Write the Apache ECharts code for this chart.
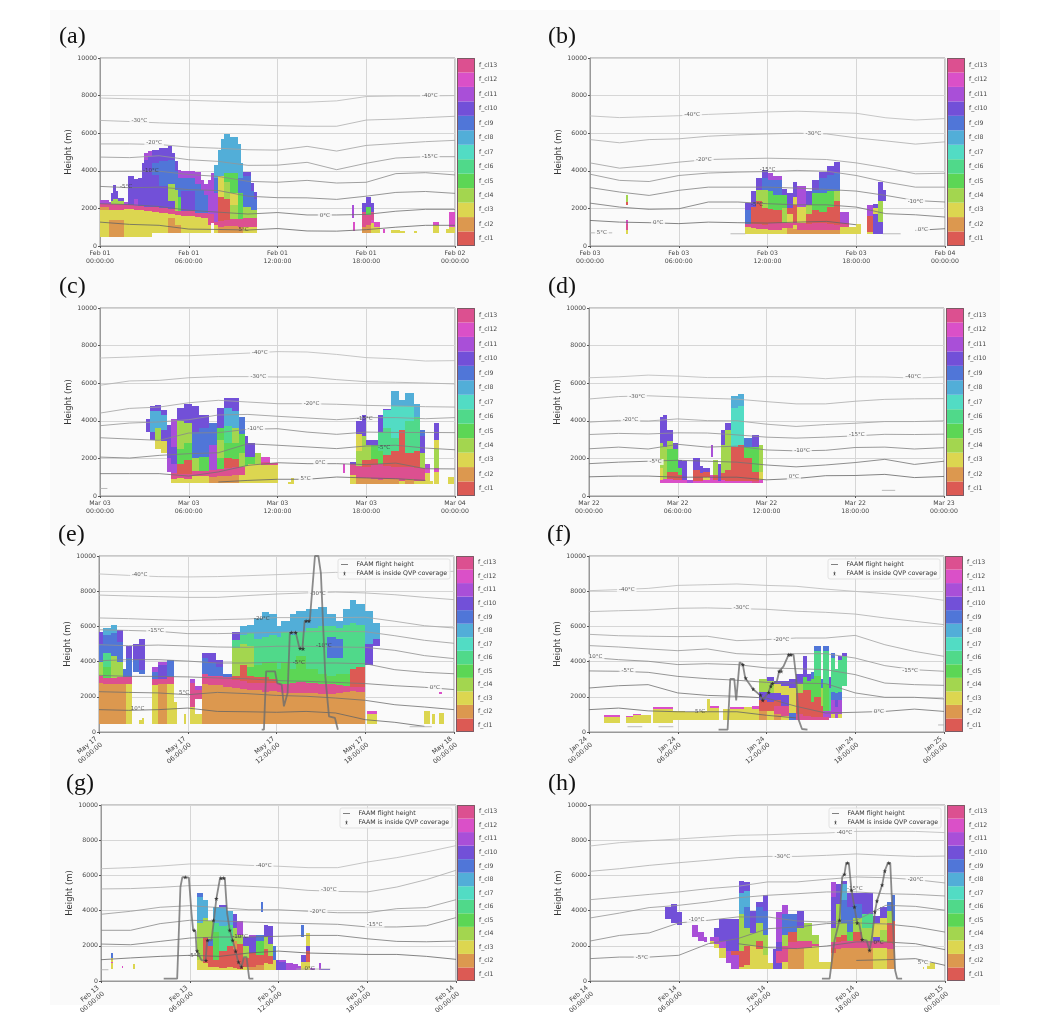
<!DOCTYPE html>
<html><head><meta charset="utf-8">
<style>html,body{margin:0;padding:0;background:#fff}#c{width:1043px;height:1034px;filter:blur(0.35px)}</style>
<script src="https://cdn.jsdelivr.net/npm/echarts@6/dist/echarts.min.js"></script>
</head><body><div id="c"></div>
<script>
const CLASS_NAMES=['f_cl1','f_cl2','f_cl3','f_cl4','f_cl5','f_cl6','f_cl7','f_cl8','f_cl9','f_cl10','f_cl11','f_cl12','f_cl13'];
const CLASS_COLORS=['#dc5a54','#dc984f','#dcd650','#a3d64f','#5cd655','#50d98a','#52dcc4','#52aed8','#5076d8','#7250d8','#a94fd8','#da50c8','#dc5090'];
const HEIGHT_TICKS=[0,2000,4000,6000,8000,10000];
const TICKS_A=['Feb 01\n00:00:00','Feb 01\n06:00:00','Feb 01\n12:00:00','Feb 01\n18:00:00','Feb 02\n00:00:00'];
const TICKS_B=['Feb 03\n00:00:00','Feb 03\n06:00:00','Feb 03\n12:00:00','Feb 03\n18:00:00','Feb 04\n00:00:00'];
const TICKS_C=['Mar 03\n00:00:00','Mar 03\n06:00:00','Mar 03\n12:00:00','Mar 03\n18:00:00','Mar 04\n00:00:00'];
const TICKS_D=['Mar 22\n00:00:00','Mar 22\n06:00:00','Mar 22\n12:00:00','Mar 22\n18:00:00','Mar 23\n00:00:00'];
const TICKS_E=['May 17\n00:00:00','May 17\n06:00:00','May 17\n12:00:00','May 17\n18:00:00','May 18\n00:00:00'];
const TICKS_F=['Jan 24\n00:00:00','Jan 24\n06:00:00','Jan 24\n12:00:00','Jan 24\n18:00:00','Jan 25\n00:00:00'];
const TICKS_G=['Feb 13\n00:00:00','Feb 13\n06:00:00','Feb 13\n12:00:00','Feb 13\n18:00:00','Feb 14\n00:00:00'];
const TICKS_H=['Feb 14\n00:00:00','Feb 14\n06:00:00','Feb 14\n12:00:00','Feb 14\n18:00:00','Feb 15\n00:00:00'];

// isotherm heights (m) sampled every 2 h, coldest line first
const ISO_A=[[7870,7830,7800,7750,7700,7650,7650,7650,7720,7950,7980,7980,8000],
[6680,6620,6550,6500,6470,6450,6400,6370,6370,6700,6750,6830,6900],
[5430,5430,5400,5260,5200,5120,5100,5300,5050,5350,5450,5550,5620],
[4730,4700,4800,4590,4500,4290,4300,4450,4060,4400,4680,4750,4750],
[3970,3980,3980,3800,3700,3440,3390,3490,3350,3390,3850,3900,3780],
[3170,3100,3130,3000,2950,2650,2570,2560,2480,2650,2850,2900,2800],
[2250,2200,2100,1900,1800,1700,1780,1650,1650,1680,1850,1950,1950],
[1270,1150,1100,900,880,850,930,800,790,870,1000,1100,1100]];
const ISO_B=[[6920,6830,6880,6930,7000,7060,7130,7170,7120,7060,6820,6700,6780],
[5660,5490,5660,5700,5840,5910,5960,6000,5960,5750,5590,5420,5540],
[4420,4140,4280,4460,4600,4640,4670,4640,4600,4420,4160,3840,3870],
[3820,3490,3430,3750,3880,3930,3960,4020,3980,3750,3400,3130,3130],
[3110,2870,2690,2960,3130,3130,3130,3080,3010,2920,2690,2420,2340],
[2280,2070,1950,1980,2340,2340,2250,2190,2190,2070,1720,1660,1540],
[1360,1270,1240,1190,1270,1240,1220,1270,1310,1130,null,830,920]];
const ISO_C=[[7340,7390,7460,7460,7530,7600,7680,7660,7530,7360,7300,7180,7200],
[5890,6120,6150,6290,6350,6350,6330,6330,6190,6080,6050,6010,5960],
[4410,4660,4730,4960,5090,5000,4910,4910,4880,4820,4790,4750,4730],
[3740,3880,3940,4060,4310,4340,4240,4150,4060,4170,4170,4110,4170],
[3100,3030,2960,3350,3370,3550,3580,3400,3280,3400,3380,3380,3370],
[2070,2020,2160,2250,2300,2780,2700,2610,2520,2660,2700,2550,2460],
[1190,1190,1190,1060,1280,1630,1770,1720,1720,1670,1750,1450,1440],
[null,null,null,null,745,830,890,890,1010,960,920,830,null]];
const ISO_D=[[6290,6340,6430,6380,6300,6300,6350,6340,6240,6340,6330,6270,6330],
[5160,5290,5330,5270,5200,5150,5020,4900,4900,5040,5140,5170,5180],
[3930,4020,3990,4100,4010,4000,3820,3700,3800,3870,3960,3960,4000],
[3270,3330,3300,3360,3350,3250,3130,3080,3130,3200,3280,3270,3290],
[2510,2600,2500,2750,2600,2650,2450,2400,2430,2580,2600,2500,2570],
[1720,1800,1850,1900,1850,1800,1650,1550,1650,1780,1950,1680,1850],
[1020,1060,1060,1000,1000,1000,860,930,1080,1090,1150,980,1040]];
const ISO_E=[[8980,8900,8830,8810,8830,8880,8940,9000,9070,9030,9030,9070,9130],
[7780,7730,7690,7650,7650,7750,7840,7900,7950,7900,7800,7650,7520],
[6480,6440,6380,6330,6380,6420,6500,6500,6500,6520,6290,6040,5910],
[5810,5770,5720,5590,5590,5620,5660,5700,5720,5700,5470,5210,5040],
[4960,4900,4940,4890,4830,4810,4870,4870,4830,4810,4640,4340,4170],
[4050,4110,4110,4030,3920,3920,3960,3920,3920,3880,3540,3390,3310],
[3220,3160,3160,3130,3070,3030,2920,2880,2820,2750,2630,2540,2410],
[2290,2250,2220,2120,2250,2180,2080,2030,1930,1800,1550,1420,1270],
[1270,1230,1270,1360,1170,1150,1120,1170,1080,700,550,320,null]];
const ISO_F=[[8030,8090,8160,8330,8370,8410,8330,8280,8120,7990,7860,7710,7480],
[6840,6890,6930,7030,7050,7010,6970,6860,6800,6700,6480,6290,6100],
[5550,5470,5440,5420,5440,5190,5250,5340,5340,5490,4960,4580,4300],
[4910,4830,4720,4620,4720,4450,4390,4450,4450,4200,3770,3540,3450],
[4240,4110,4020,3830,3880,3830,3640,3600,3540,3260,2780,2690,2650],
[3470,3450,3390,3160,3030,2940,2820,2780,2750,2220,1970,1970,1880],
[2500,2630,2690,2220,2080,2030,1930,1460,1080,1120,1170,1300,1170],
[1270,1360,1200,1150,1150,1150,950,800,null,null,null,null,null]];
const ISO_G=[[6380,6440,6530,6650,6650,6570,6520,6440,6440,6760,7010,7330,7690],
[5230,5250,5320,5420,5440,5380,5300,5150,5090,5060,5340,5760,6290],
[3790,3960,4190,4280,4170,4050,4050,3960,3880,3880,4110,4170,4620],
[2880,2880,3260,3450,3410,3350,3300,3260,3220,3070,3070,3140,3600],
[2100,2060,2250,2440,2500,2500,2540,2590,2590,2400,2250,2230,2270],
[1210,1310,1400,1460,1400,1590,1700,1590,1550,1510,1510,1400,1230]];
const ISO_H=[[7670,7860,7970,8070,8180,8280,8310,8370,8410,8500,8520,8500,8430],
[6230,6380,6570,6720,6860,7010,7080,7080,7140,7220,7140,7080,7100],
[4620,4770,4920,5060,5250,5380,5630,5630,5780,5910,5870,5760,5570],
[3580,3860,4170,4300,4490,4730,4870,4960,5060,5060,4960,4920,4830],
[2270,2590,2730,3300,3450,3640,3640,3410,3350,3450,4300,4240,4020],
[1270,1360,1360,1460,2120,2410,2970,3070,3260,3300,3240,3070,2780],
[null,null,null,null,null,2120,1900,1840,1990,2220,2220,2120,1780],
[null,null,null,null,null,null,null,null,null,1170,1210,1270,890]];

// short isotherm pieces: [start hour, end hour, height]
const FRAG_A=[],FRAG_C=[[0,0.5,400]],FRAG_D=[[19.8,20.7,300]],FRAG_E=[[21,22.5,300]],
FRAG_B=[[0,1.5,700],[9.5,10.5,650],[19.8,21,650]],FRAG_F=[[2.6,3.6,300],[4.7,5.7,300],[23.6,24,400]],
FRAG_G=[[0,0.5,640],[13.2,15.5,680]],FRAG_H=[];

// isotherm labels: [hour, height, text, 1 when the label sits on cloud]
const ISOLAB_A=[[22.3,8000,'-40°C'],[2.66,6670,'-30°C'],[3.66,5480,'-20°C'],[22.3,4730,'-15°C'],[3.43,4020,'-10°C',1],[1.76,3170,'-5°C',1],[15.2,1610,'0°C'],[9.7,870,'5°C',1]];
const ISOLAB_B=[[6.9,7010,'-40°C'],[15.1,5960,'-30°C'],[7.7,4580,'-20°C'],[12,4040,'-15°C',1],[22,2370,'-10°C'],[11.3,2210,'-5°C',1],[4.6,1240,'0°C'],[22.5,880,'0°C'],[0.8,710,'5°C']];
const ISOLAB_C=[[10.8,7620,'-40°C'],[10.7,6370,'-30°C'],[14.3,4890,'-20°C'],[17.9,4130,'-15°C',1],[10.5,3580,'-10°C'],[19.2,2570,'-5°C',1],[14.9,1760,'0°C'],[13.9,920,'5°C']];
const ISOLAB_D=[[21.9,6330,'-40°C'],[3.25,5270,'-30°C'],[2.8,4060,'-20°C'],[18.1,3260,'-15°C'],[14.4,2430,'-10°C'],[4.5,1810,'-5°C'],[13.85,1010,'0°C']];
const ISOLAB_E=[[2.75,8920,'-40°C'],[14.8,7880,'-30°C'],[11,6440,'-20°C',1],[3.85,5780,'-15°C'],[15.2,4900,'-10°C',1],[13.5,3960,'-5°C',1],[22.7,2540,'0°C'],[5.75,2250,'5°C',1],[2.6,1310,'10°C',1]];
const ISOLAB_F=[[2.55,8120,'-40°C'],[10.3,7060,'-30°C'],[13,5270,'-20°C'],[0.45,4260,'10°C'],[2.6,3480,'-5°C'],[21.7,3470,'-15°C'],[19.6,1170,'0°C'],[7.5,1170,'5°C',1]];
const ISOLAB_G=[[11,6550,'-40°C'],[15.4,5190,'-30°C'],[14.65,3940,'-20°C'],[18.5,3200,'-15°C'],[9.4,2540,'-10°C',1],[6.3,1460,'-5°C',1],[14.1,680,'0°C',1]];
const ISOLAB_H=[[17.2,8450,'-40°C'],[13,7080,'-30°C'],[22,5760,'-20°C'],[17.9,5250,'-15°C',1],[7.2,3480,'-10°C'],[3.5,1310,'-5°C'],[19.5,2180,'0°C',1],[22.5,1020,'5°C']];

// cloud columns: [start hour, end hour, base height, class, top, class, top, ...]; class 0 = gap
const CLOUD_A=[[0,.6,480,3,1900,2,2050,13,2250,11,2450],[.6,.75,480,2,1400,3,1900,13,2250,11,2350],[.75,.85,480,2,1400,3,1900,13,2250,4,2400,10,2800],[.85,1.05,480,2,1400,3,1900,13,2250,4,2500,10,3250],[1.05,1.2,480,2,1400,3,1900,13,2250,4,2500,10,2900],[1.2,1.6,480,2,1400,3,1900,13,2250,4,2400,10,2550],[1.6,1.9,480,3,1950,13,2200,11,2350],[1.9,2.3,480,3,1950,13,2200,10,3700],[2.3,2.6,480,3,1900,13,2150,11,2500,10,3550],[2.6,2.85,480,3,1900,13,2150,10,3600],[2.85,3,480,3,1900,13,2150,10,4400],[3,3.25,480,3,1850,13,2100,10,4600,11,4950],[3.25,3.5,480,3,1850,13,2100,10,4800,11,5050],[3.5,4,700,3,1800,13,2050,10,3800,9,4400,10,5100],[4,4.6,700,3,1750,13,2000,10,3200,9,4500,10,5200],[4.6,4.85,700,2,1500,3,1700,13,1950,10,2400,4,3300,9,4600,10,5300],[4.85,5.1,700,2,1500,3,1700,13,1950,10,2400,4,3300,9,4600,10,4950],[5.1,5.3,700,2,1100,3,1650,13,1850,4,3000,9,4000,10,4500],[5.3,5.5,700,2,1100,3,1650,13,1850,5,2600,9,3600,11,4050],[5.5,6.4,700,3,1600,13,1850,10,2900,9,3600,11,4000],[6.4,6.8,700,3,1550,13,1750,9,3300,11,3950],[6.8,7,700,3,1500,13,1750,9,3000,11,3500],[7,7.3,700,3,1500,13,1750,9,2700,11,3300],[7.3,7.5,700,3,1100,13,1700,11,3500],[7.5,7.7,1200,13,1700,11,3900],[7.7,7.95,700,3,1100,13,1300,11,2800,9,3600,8,4300],[7.95,8.15,700,2,1000,13,1350,1,2600,3,3700,8,5100],[8.15,8.4,700,2,1000,13,1350,1,2600,3,3700,8,5700],[8.4,8.8,700,2,1050,13,1400,1,2500,4,3400,5,3900,8,5950],[8.8,9.3,700,2,1050,13,1450,4,2200,3,2800,5,3900,8,5800],[9.3,9.5,700,2,1000,13,1450,5,2800,9,3600,8,5400],[9.5,9.7,700,2,1000,13,1450,5,2800,9,3600,8,4400],[9.7,10.2,700,3,1000,13,1500,4,2100,9,3700,10,3950],[10.2,10.4,700,3,1000,13,1500,4,1900,9,2900,10,3350],[10.4,10.6,700,3,1000,13,1500,4,1900,9,2500,10,2850],[17.05,17.2,1500,11,2200],[17.1,17.25,800,12,1300],[17.7,18,700,2,1000,13,1800,10,2300],[18,18.3,700,2,1100,13,1650,5,2050,10,2600],[18.3,18.5,700,3,1200,12,1400,13,1800,10,2300],[18.5,18.9,700,3,1000,12,1300],[19.1,19.3,700,12,900],[19.7,20.3,700,3,850],[20.3,20.6,700,3,780],[21.2,21.4,700,3,800],[22.5,22.9,700,3,1100,12,1300],[23.4,23.6,700,3,900],[23.6,24,700,3,1000,12,1800]];
const CLOUD_B=[[2.45,2.6,650,3,850,13,1150,12,1400],[2.45,2.6,2200,1,2350,4,2700],[10.5,10.9,650,3,1000,13,1150,9,1900,10,2300],[10.9,11.2,650,3,950,13,1150,1,2100,10,2950],[11.2,11.6,650,3,900,13,1150,1,2400,4,3000,10,3600],[11.6,12,650,3,900,13,1100,1,2000,4,3000,9,3600,10,4050],[12,12.4,650,3,850,13,1200,1,1950,5,2900,9,3500,11,3900],[12.4,13,650,3,850,13,1250,1,1900,5,2700,9,3500,11,3700],[13,13.3,650,3,950,13,1250,4,2000,5,2700,10,3050],[13.3,13.7,650,2,950,13,1250,3,1700,1,2000,10,2800],[13.7,14,650,2,900,3,1100,13,1300,1,2200,3,2600,10,3400],[14,14.6,650,2,850,13,1200,3,2100,11,3200],[14.6,15,650,2,850,13,1150,1,1700,4,2200,10,2900],[15,15.5,650,2,850,13,1200,1,1900,5,2800,9,3000,10,3500],[15.5,16,650,2,850,13,1200,1,1800,5,2800,9,3600,10,3950],[16,16.5,650,2,850,13,1150,1,2100,5,2900,9,3800,10,4250],[16.5,16.9,650,2,850,13,1100,1,2400,4,2900,9,3900,10,4450],[16.9,17.5,650,3,1000,13,1200,11,1800],[17.5,18,650,3,1000],[18,18.3,650,3,1150],[18.7,19.15,650,3,750,1,1600,11,2200],[19.15,19.45,650,10,1700,3,2000,10,2250],[19.45,19.8,650,10,1300,4,2400,10,3400],[19.8,20,2400,10,3000]];
const CLOUD_C=[[3.1,3.4,3400,10,4100],[3.4,3.7,3000,10,3400,8,4500,10,4800],[3.7,4.1,2500,3,3000,4,3600,8,4500,10,4850],[4.1,4.5,2300,3,2900,10,3500,8,4300,10,4600],[4.5,4.8,1300,11,2000,10,3800],[4.8,5.2,700,3,900,13,1200,11,1700,10,2600,11,4100],[5.2,5.7,700,3,950,13,1150,1,1700,5,2500,4,4000,10,4700],[5.7,6.2,700,3,900,13,1150,1,1900,5,2800,4,3900,10,4900],[6.2,6.7,700,3,1050,13,1350,4,2000,9,3400,10,4800],[6.7,7.4,700,3,1050,13,1350,5,2100,9,3600,10,4300],[7.4,7.9,700,2,1000,13,1400,11,2700,9,3900],[7.9,8.4,700,2,1050,13,1450,5,2000,4,3000,5,3600,10,4700],[8.4,8.9,700,2,1050,13,1500,1,2000,5,2800,6,3700,8,4700,10,5200],[8.9,9.4,700,2,1100,13,1550,1,1950,5,2800,4,3600,8,4500,10,5200],[9.4,9.8,700,3,1100,13,1550,4,2300,5,3300,9,4200],[9.8,10,700,3,1600,5,2100,10,3200],[10,10.5,700,3,1700,5,2100,10,2800],[10.5,10.9,700,3,1700,4,2300],[10.9,11.5,700,3,1650,13,1800,12,2100],[11.5,12,700,3,1650,13,1750],[12.7,13,620,3,750],[12.9,13.1,620,3,950],[16.4,16.55,1250,12,1700],[16.9,17.3,620,3,1100,13,1700,10,1800],[17.3,17.7,620,2,950,13,1600,4,2400,3,3300,10,4000],[17.7,18,620,2,950,13,1550,1,1900,4,3200,10,4300],[18,18.3,620,2,950,13,1550,1,1900,4,2700,10,3000],[18.3,18.8,620,2,900,13,1650,1,1950,5,2700,10,3000],[18.8,19.1,620,2,850,13,1700,5,2400,6,3400,10,4300],[19.1,19.7,620,2,900,13,1600,1,2200,6,3600,7,4550,10,4650],[19.7,20.2,620,2,900,13,1550,1,2400,6,3100,7,4800,8,5600],[20.2,20.6,620,3,800,13,1550,1,3500,7,4800,8,5100],[20.6,21.2,620,2,900,13,1550,1,2300,6,4000,7,4800,8,5500],[21.2,21.6,620,3,800,13,1500,1,2400,6,4200,8,4900],[21.6,22,620,3,800,13,1500,4,2300,10,3200,9,3500],[22,22.3,620,3,1200,12,1500,11,1700],[22.3,22.5,620,3,800],[22.6,22.9,620,3,1300,12,1500,4,2500,3,3000,10,3900],[23.5,23.9,620,3,1000]];
const CLOUD_D=[[4.8,5,700,12,850,3,1500,4,2800,10,4200],[5,5.3,700,12,900,4,2600,10,4300],[5.3,5.7,700,12,900,1,1300,5,2500,4,2900,10,3500],[5.7,6,700,12,850,1,1300,5,2500,10,2800],[6,6.3,700,12,850,1,1100,5,1500,10,1900],[6.3,6.6,700,12,850,10,1850],[6.6,7,700,11,850],[7,7.5,700,12,800,1,1400,10,2000],[7.5,7.7,700,12,800,1,1250,10,1600],[7.7,8.2,700,12,850,3,1000,1,1300,10,1500],[8.2,8.4,700,12,1100],[8.25,8.35,2100,11,2700],[8.4,8.7,700,12,850,1,1100,4,1900],[8.7,8.95,700,12,800,10,1700],[8.95,9.2,700,12,850,1,1200,4,2700,10,3500],[9.2,9.6,700,12,800,1,1400,4,3500,10,3900],[9.6,10.1,700,12,800,1,2600,7,4700,8,5300],[10.1,10.5,700,12,800,1,2700,7,4800,8,5400],[10.5,11,700,12,800,1,2000,5,2600,9,3100],[11,11.5,700,13,800,1,1300,5,2600,10,3250],[11.5,11.75,700,12,850,3,1300,4,2700]];
const CLOUD_E=[[0,.3,480,2,2800,13,3200,4,4000,9,5000,10,5700],[.3,.8,480,2,2750,13,3050,5,3700,6,4500,9,5500,8,5900],[.8,1.2,480,2,2750,13,3050,4,4300,9,5600,8,6100],[1.2,1.6,480,2,2750,13,3100,4,4000,9,5100,10,5800],[1.6,1.8,480,2,2750,13,3150,9,3600],[1.8,2.25,480,3,2700,13,3150,9,4200,10,4900],[2.3,2.7,3400,9,4100,10,5000],[2.7,3.1,3300,9,3500,10,5300],[2.7,2.9,480,3,700],[2.9,3.05,480,3,800],[3.55,4,480,3,2650,13,3000,9,3400,11,3700],[4,4.6,480,2,2700,13,3000,10,3800,11,4000],[4.6,5.1,480,3,2700,13,3100,9,4100],[5.1,5.3,480,3,1700],[5.75,5.9,480,3,1000],[6.15,6.5,480,3,1400,13,2800,11,3000],[6.5,7,480,3,1000,0,1900,13,2400,11,2600],[6.95,7.4,480,2,2700,13,3300,9,4200,10,4500],[7.4,7.9,480,2,2650,13,3200,9,3900,10,4500],[7.9,8.4,480,2,2650,13,3200,9,3700,10,4100],[8.4,9,480,2,2550,13,3100,9,3300],[9,9.5,480,2,2500,13,2950,1,3200,4,4800,6,5200,10,5700],[9.5,10,480,2,2450,13,2900,1,3800,4,5000,6,5500,8,6000],[10,10.5,480,2,2400,13,2800,1,3200,5,3700,4,4900,6,5600,8,6100],[10.5,11,480,2,2400,13,2800,1,3100,5,3800,6,5300,8,6500],[11,11.5,480,2,2300,13,2800,1,3100,5,4000,6,5400,8,6800],[11.5,12,480,2,2350,13,2800,1,3000,5,4000,6,5500,8,6700],[12,12.3,480,2,2300,13,2800,5,3600,6,5400,8,6000],[12.3,12.9,480,2,2200,13,2700,5,4000,6,5700,8,6300],[12.9,13.3,480,2,2200,13,2800,5,3600,6,5500,8,6700],[13.3,14,480,2,2200,13,2850,5,4300,6,5700,8,6900],[14,14.8,480,2,2200,13,2800,5,3600,6,5900,8,7000],[14.8,15.4,480,2,2150,13,2750,5,3300,6,6000,8,7100],[15.4,16,480,2,2150,13,2700,5,3200,6,4200,9,5400,6,6000,8,6700],[16,16.5,480,2,2200,13,2650,5,3300,6,4200,9,5300,6,5900,8,6300],[16.5,17,480,2,2300,13,2600,5,3300,6,6100,8,7000],[17,17.4,480,2,2350,13,2550,1,3600,6,6200,8,7500],[17.4,18,480,2,2300,13,2550,1,3700,6,6100,8,7300],[18,18.5,3800,10,5000,8,6900],[18.5,19,4900,10,5300,8,6200],[18.1,18.8,480,3,1000,12,1200],[22,22.4,480,3,1200],[22.5,22.7,480,3,1000],[23,23.3,480,3,1100],[23,23.2,2150,12,2300]];
const CLOUD_F=[[1,2.1,500,3,850,12,950],[2.5,3,500,3,850,12,900],[3,3.5,500,3,950,12,1050],[3.5,4.2,500,3,950],[4.3,5.7,500,3,1300,12,1400],[5.7,6.5,700,3,1200],[6.5,7.5,700,3,1150],[7.5,7.95,700,3,1200],[7.95,8.2,700,3,1850],[8.2,8.8,700,3,1350,12,1450],[9.05,9.5,700,3,1300],[9.5,10.5,700,3,1300,12,1400],[10.5,11,700,3,1400],[11,11.5,700,3,1300,12,1500],[11.5,12,700,2,1200,1,1800,10,2300,4,3000],[12,12.5,700,3,1200,1,1700,10,2200,4,2900,10,3100],[12.5,13,700,2,1000,13,1500,1,1800,10,2200,3,2700,10,2900],[13,13.5,700,3,900,13,1500,10,2100,3,2600,10,2900],[13.5,14,700,9,1100,3,2500,10,3000],[14,14.5,700,13,1000,1,2200,4,2700,10,3300],[14.5,14.75,700,13,900,1,2400,5,3100,10,4300],[14.75,15,700,13,900,1,2400,5,2900,10,3300],[15,15.2,700,13,850,1,1700,5,3000,9,3400],[15.2,15.7,700,13,850,1,2000,5,3200,6,4600,9,4900],[15.7,15.85,700,13,850,1,1500,4,2500,9,3000],[15.85,16.2,700,13,850,11,1200,5,2700,6,4600,9,4900],[16.2,16.35,800,11,1200,6,2500,10,3100],[16.35,16.6,800,3,1000,11,1800,9,2300,6,4200,9,4500],[16.6,16.8,800,11,1400,10,1800,9,2200,6,3600],[16.8,17.1,800,3,1000,11,1800,9,2300,6,4100,10,4300],[17.1,17.45,2600,6,4300,10,4500]];
const CLOUD_G=[[.65,.8,700,3,1000,12,1100,3,1300,9,1600],[1.4,1.5,750,12,850],[2.15,2.3,700,3,950],[6.5,6.9,650,3,1200,4,3300,8,4800,9,5000],[6.9,7.2,650,3,1000,1,2500,4,3600,8,4600],[7.2,7.6,650,3,800,1,2000,9,2400,4,3400],[7.6,8,650,3,800,1,1200,5,2800,6,3300,8,4200],[8,8.5,650,3,750,1,1700,6,3100,8,4200,10,4300],[8.5,8.9,650,3,800,1,2000,6,3200,8,4000],[8.9,9.2,650,3,750,1,1800,2,2300,4,3000,10,3800],[9.2,9.6,650,3,700,1,2100,4,2600,11,3400],[9.6,10,650,3,800,1,1300,4,2000,10,2500],[10,10.5,650,2,800,1,1600,10,2500,11,2600],[10.5,11,650,2,900,1,1500,5,2300,9,2600],[11,11.3,650,3,1000,1,1800,4,2500,10,3200],[11.3,11.6,650,3,950,1,1400,4,2100,10,3100],[11.6,11.8,650,3,1200,9,2000],[10.8,10.95,3900,9,4500],[11.8,12,650,10,1200],[12,12.5,650,10,1100,11,1200],[12.5,13,650,11,1050],[13,13.3,650,11,950],[13.3,13.5,650,11,850],[13.55,13.7,2500,9,3200],[13.55,13.85,650,3,1100,10,1500],[13.85,14.1,650,3,1100,1,1700,10,2000,3,2700],[14.1,14.5,650,11,750],[14.75,14.9,650,11,1050],[14.9,15.5,650,10,700]];
const CLOUD_H=[[5.1,5.5,3500,10,4200],[5.5,5.9,3300,10,4400],[5.9,6.25,3200,10,3900],[6.9,7.3,2500,11,3200],[7.3,7.7,2300,11,2800],[7.7,7.9,2200,11,2500],[8.1,8.4,2100,3,2300,11,2500],[8.4,8.75,1850,3,2100,11,2500,10,3000],[8.75,9.2,1300,3,1900,11,2300,10,3500],[9.2,9.55,1000,11,1700,10,3500],[9.55,10.1,700,11,1500,1,1700,10,3500],[10.1,10.4,700,3,800,1,1700,4,3800,8,5000,10,5700],[10.4,10.8,700,3,900,1,2000,4,3000,9,4200,8,5100,10,5600],[10.8,11.25,700,3,2000,4,2700,10,4000],[11.25,11.7,700,3,1800,1,2300,4,3300,9,4200,10,4500],[11.7,12.05,700,3,1500,4,2600,9,4000,10,4900],[12.05,12.4,700,3,1000],[12.4,12.6,700,10,1800],[12.6,13,700,10,1000,13,1700,10,2200,11,3900],[13,13.4,700,3,1100,13,2000,4,2600,9,3800,11,4300],[13.4,14,700,2,1800,13,2200,1,2800,9,3800],[14,14.5,700,2,1900,13,2300,4,3000,10,4000],[14.5,15,700,3,1900,13,2300,4,3300],[15,15.5,700,3,2000,13,2100,4,2600],[15.5,16.3,700,3,1100],[16.3,16.6,700,2,1600,1,1900,13,2200,4,3000,10,4800,11,5600],[16.6,17,700,2,1800,13,2200,1,2500,4,4400,10,5500],[17,17.4,700,2,1900,13,2300,1,2600,4,3300,9,4600,8,5500,10,5700],[17.4,17.8,700,2,1900,13,2300,5,2800,9,4200,10,5000],[17.8,18.4,700,2,1900,13,2250,1,2800,4,3600,9,4400,10,5000],[18.4,19.1,700,2,1900,13,2250,4,3000,6,3800,10,5000],[19.1,19.6,700,3,1900,13,2250,10,2500,3,3300,10,3700],[19.6,20.1,700,3,1900,13,2200,4,2900,3,3600,10,4200],[20.1,20.4,700,2,1800,13,2150,1,3300,4,4000,9,4500],[20.4,20.65,700,2,1800,13,2100,1,3400,9,4900],[22.5,22.6,700,3,800],[22.8,23.3,700,3,1050]];

// aircraft track: [hour, height]; stars: [hour, height]
const FLIGHT_E=[[11,130],[11.15,130],[11.3,3450],[11.9,3450],[12.05,2780],[12.35,2690],[12.5,1460],[12.75,2220],[12.9,5630],[13.3,5660],[13.55,4770],[13.75,4720],[13.9,6290],[14.25,6330],[14.6,10000],[14.83,10000],[15,9030],[15.3,3160],[15.55,890],[15.95,800],[16.15,130]];
const STARS_E=[[13,5650],[13.3,5650],[13.6,4750],[13.8,4730],[14,6300],[14.2,6300]];
const FLIGHT_F=[[8.76,130],[9.37,130],[9.55,3010],[9.82,3010],[9.95,1800],[10.18,3960],[10.4,3830],[10.56,3070],[10.8,2780],[11.08,2440],[11.58,2080],[11.73,1800],[12.14,2250],[12.3,2690],[12.7,2880],[12.86,3450],[13.15,3730],[13.5,4390],[13.83,4390],[14,3160],[14.17,700],[14.4,170],[14.77,130]];
const STARS_F=[[10.4,3830],[10.6,3070],[11.1,2440],[11.6,2100],[11.75,1800],[12.15,2250],[12.3,2600],[12.4,2750],[12.85,3450],[13,3450],[13.5,4390],[13.65,4390]];
const FLIGHT_G=[[4.24,130],[5.15,130],[5.37,5340],[5.5,5900],[5.94,5870],[6.12,3830],[6.23,2880],[6.39,2840],[6.46,1740],[6.8,1170],[7.07,1170],[7.18,2310],[7.47,2310],[7.63,3450],[7.8,4680],[8.04,5810],[8.37,5850],[8.53,3830],[8.71,2880],[8.9,2310],[9.1,1690],[9.28,1080],[9.5,800],[9.66,1360],[9.84,1360],[10.02,130],[10.3,130]];
const STARS_G=[[5.7,5900],[6.3,2880],[6.5,1700],[7.1,1170],[7.2,2310],[7.6,3450],[7.8,4680],[8.1,5850],[8.3,5850],[8.7,2880],[8.9,2310],[9.1,1690],[9.3,1080],[9.5,800]];
const FLIGHT_H=[[15.68,130],[16.2,130],[16.53,2310],[16.87,3450],[17.05,5910],[17.2,6060],[17.32,6700],[17.5,6700],[17.68,5150],[17.88,4200],[18.06,3300],[18.2,3260],[18.4,2350],[18.7,2310],[18.9,1740],[19.07,2500],[19.26,3920],[19.4,4540],[19.75,5450],[19.93,6250],[20.13,6700],[20.3,6700],[20.47,3450],[20.63,600],[20.77,130],[21.1,130]];
const STARS_H=[[16.87,3450],[17.2,6060],[17.4,6700],[17.68,5150],[17.88,4200],[18.06,3300],[18.4,2350],[18.9,1740],[19.26,3920],[19.4,4540],[19.75,5450],[19.93,6250],[20.2,6700]];

const PANELS=[
{tag:'(a)',tx:59,ty:37,x:100,y:58,w:355,h:188,cbx:457,ticks:TICKS_A,iso:ISO_A,frag:FRAG_A,lab:ISOLAB_A,cloud:CLOUD_A},
{tag:'(b)',tx:548,ty:37,x:590,y:58,w:355,h:188,cbx:947,ticks:TICKS_B,iso:ISO_B,frag:FRAG_B,lab:ISOLAB_B,cloud:CLOUD_B},
{tag:'(c)',tx:59,ty:287,x:100,y:308,w:355,h:188,cbx:457,ticks:TICKS_C,iso:ISO_C,frag:FRAG_C,lab:ISOLAB_C,cloud:CLOUD_C},
{tag:'(d)',tx:548,ty:287,x:589,y:308,w:355,h:188,cbx:946,ticks:TICKS_D,iso:ISO_D,frag:FRAG_D,lab:ISOLAB_D,cloud:CLOUD_D},
{tag:'(e)',tx:58,ty:535,x:99,y:556,w:355,h:176,cbx:456,ticks:TICKS_E,iso:ISO_E,frag:FRAG_E,lab:ISOLAB_E,cloud:CLOUD_E,flight:FLIGHT_E,stars:STARS_E,rot:40,leg:[338,559]},
{tag:'(f)',tx:547,ty:535,x:589,y:556,w:355,h:176,cbx:945,ticks:TICKS_F,iso:ISO_F,frag:FRAG_F,lab:ISOLAB_F,cloud:CLOUD_F,flight:FLIGHT_F,stars:STARS_F,rot:40,leg:[828,559]},
{tag:'(g)',tx:66,ty:784,x:101,y:805,w:355,h:176,cbx:457,ticks:TICKS_G,iso:ISO_G,frag:FRAG_G,lab:ISOLAB_G,cloud:CLOUD_G,flight:FLIGHT_G,stars:STARS_G,rot:40,leg:[340,808]},
{tag:'(h)',tx:548,ty:784,x:590,y:805,w:355,h:176,cbx:947,ticks:TICKS_H,iso:ISO_H,frag:FRAG_H,lab:ISOLAB_H,cloud:CLOUD_H,flight:FLIGHT_H,stars:STARS_H,rot:40,leg:[829,808]}
];

const FONT='"DejaVu Sans",sans-serif', TXT='#444', GRID='#d6d6d6';
const STAR='path://M50 0L61 35L98 35L68 57L79 91L50 70L21 91L32 57L2 35L39 35Z';
const ICON_STAR='path://M0 0L.1 0L0 .1ZM50 7L54 37L69 37L57 55L62 85L50 67L38 85L43 55L31 37L46 37ZM100 100L99.9 100L100 99.9Z';
const ICON_LINE='path://M0 0L.1 0L0 .1ZM0 42L100 42L100 58L0 58ZM100 100L99.9 100L100 99.9Z';
const HOURS=[0,2,4,6,8,10,12,14,16,18,20,22,24];
const grids=[],xs=[],ys=[],series=[],legends=[],graphics=[{type:'rect',z:-10,shape:{x:50,y:10,width:950,height:995},style:{fill:'#fafafa'}}];

function renderCell(params,api){
  const a=api.coord([api.value(0),api.value(3)]), b=api.coord([api.value(1),api.value(2)]);
  const x=Math.round(a[0]),y=Math.round(a[1]);
  return {type:'rect',shape:{x:x,y:y,width:Math.round(b[0])-x,height:Math.round(b[1])-y},style:{fill:CLASS_COLORS[api.value(4)-1]}};
}
function flatten(cols){
  const out=[];
  cols.forEach(c=>{let base=c[2];for(let i=3;i<c.length;i+=2){if(c[i])out.push([c[0],c[1],base,c[i+1],c[i]]);base=c[i+1];}});
  return out;
}
function labelSeries(g,items,bg){
  return {type:'scatter',xAxisIndex:g,yAxisIndex:g,symbolSize:0,silent:true,animation:false,z:4,
    label:{show:true,position:'inside',formatter:'{b}',fontFamily:FONT,fontSize:5.5,color:'#333',backgroundColor:bg,padding:[0,2]},
    data:items.map(l=>({name:l[2],value:[l[0],l[1]]}))};
}

PANELS.forEach((p,i)=>{
  const g=i*2, cb=i*2+1;
  graphics.push({type:'text',x:p.tx,y:p.ty,style:{text:p.tag,font:'24px "Liberation Serif",serif',fill:'#111',verticalAlign:'middle'}});
  graphics.push({type:'rect',z:50,shape:{x:p.cbx+.5,y:p.y+.5,width:17,height:p.h-1},style:{fill:'none',stroke:'#7a5a64',lineWidth:1}});
  grids.push({left:p.x,top:p.y,width:p.w,height:p.h,show:true,borderColor:'#999',borderWidth:1,backgroundColor:'transparent'});
  grids.push({left:p.cbx,top:p.y,width:18,height:p.h,show:false});
  xs.push({gridIndex:g,type:'value',min:0,max:24,interval:6,
    axisLine:{show:true,lineStyle:{color:'#999'}},axisTick:{show:true,length:2,lineStyle:{color:'#555'}},
    splitLine:{show:true,lineStyle:{color:GRID,width:1}},
    axisLabel:{fontFamily:FONT,fontSize:p.rot?6.5:6.2,color:TXT,lineHeight:8,margin:p.rot?9:3,rotate:p.rot||0,hideOverlap:false,showMinLabel:true,showMaxLabel:true,
      formatter:v=>p.ticks[v/6]}});
  ys.push({gridIndex:g,type:'value',min:0,max:10000,interval:2000,name:'Height (m)',nameLocation:'middle',nameGap:24,
    nameTextStyle:{fontFamily:FONT,fontSize:8.5,color:'#333'},
    axisLine:{show:true,lineStyle:{color:'#999'}},axisTick:{show:true,length:2,lineStyle:{color:'#555'}},
    splitLine:{show:true,lineStyle:{color:GRID,width:1}},
    axisLabel:{fontFamily:FONT,fontSize:6.2,color:TXT,margin:3,showMinLabel:true,showMaxLabel:true,
      formatter:v=>HEIGHT_TICKS[v/2000]}});
  xs.push({gridIndex:cb,type:'value',min:0,max:1,show:false});
  ys.push({gridIndex:cb,type:'category',data:CLASS_NAMES,position:'right',
    axisLine:{show:false},axisTick:{show:true,length:2,alignWithLabel:true,lineStyle:{color:'#555'}},splitLine:{show:false},
    axisLabel:{fontFamily:FONT,fontSize:6.2,color:TXT,margin:4,interval:0}});
  series.push({type:'bar',xAxisIndex:cb,yAxisIndex:cb,barWidth:'100%',silent:true,animation:false,
    data:CLASS_COLORS.map(c=>({value:1,itemStyle:{color:c}}))});
  series.push({type:'custom',xAxisIndex:g,yAxisIndex:g,renderItem:renderCell,silent:true,animation:false,clip:true,z:2,
    encode:{x:[0,1],y:[2,3]},data:flatten(p.cloud)});
  const n=p.iso.length;
  p.iso.forEach((vals,j)=>{
    const shade=Math.round(185-(j/(n-1))*85), col=`rgb(${shade},${shade},${shade})`;
    series.push({type:'line',xAxisIndex:g,yAxisIndex:g,symbol:'none',silent:true,animation:false,z:3,connectNulls:false,
      lineStyle:{color:col,width:0.8},data:vals.map((v,k)=>[HOURS[k],v===null?'-':v])});
  });
  p.frag.forEach(f=>series.push({type:'line',xAxisIndex:g,yAxisIndex:g,symbol:'none',silent:true,animation:false,z:3,
    lineStyle:{color:'#aaa',width:0.8},data:[[f[0],f[2]],[f[1],f[2]]]}));
  series.push(labelSeries(g,p.lab.filter(l=>!l[3]),'#fafafa'));
  series.push(labelSeries(g,p.lab.filter(l=>l[3]),'transparent'));
  if(p.flight){
    series.push({name:'FAAM flight height',type:'line',xAxisIndex:g,yAxisIndex:g,symbol:'none',silent:true,animation:false,z:5,
      lineStyle:{color:'rgba(110,110,110,0.8)',width:1.8},itemStyle:{color:'#808080'},data:p.flight});
    series.push({name:'FAAM is inside QVP coverage',type:'scatter',xAxisIndex:g,yAxisIndex:g,symbol:STAR,symbolSize:4.5,silent:true,animation:false,z:6,
      itemStyle:{color:'#222'},data:p.stars});
    legends.push({left:p.leg[0],top:p.leg[1],orient:'vertical',selectedMode:false,itemGap:2,itemWidth:14,itemHeight:7,itemStyle:{borderWidth:0},padding:[2,3],
      backgroundColor:'rgba(250,250,250,0.8)',borderColor:'#e2e2e2',borderWidth:1,borderRadius:2,
      textStyle:{fontFamily:FONT,fontSize:6.25,color:'#333'},
      data:[{name:'FAAM flight height',icon:ICON_LINE},{name:'FAAM is inside QVP coverage',icon:ICON_STAR}]});
  }
});

const chart=echarts.init(document.getElementById('c'),null,{renderer:'canvas'});
chart.setOption({animation:false,backgroundColor:'#fff',grid:grids,xAxis:xs,yAxis:ys,series:series,legend:legends,graphic:graphics,tooltip:{show:false}});
</script></body></html>
